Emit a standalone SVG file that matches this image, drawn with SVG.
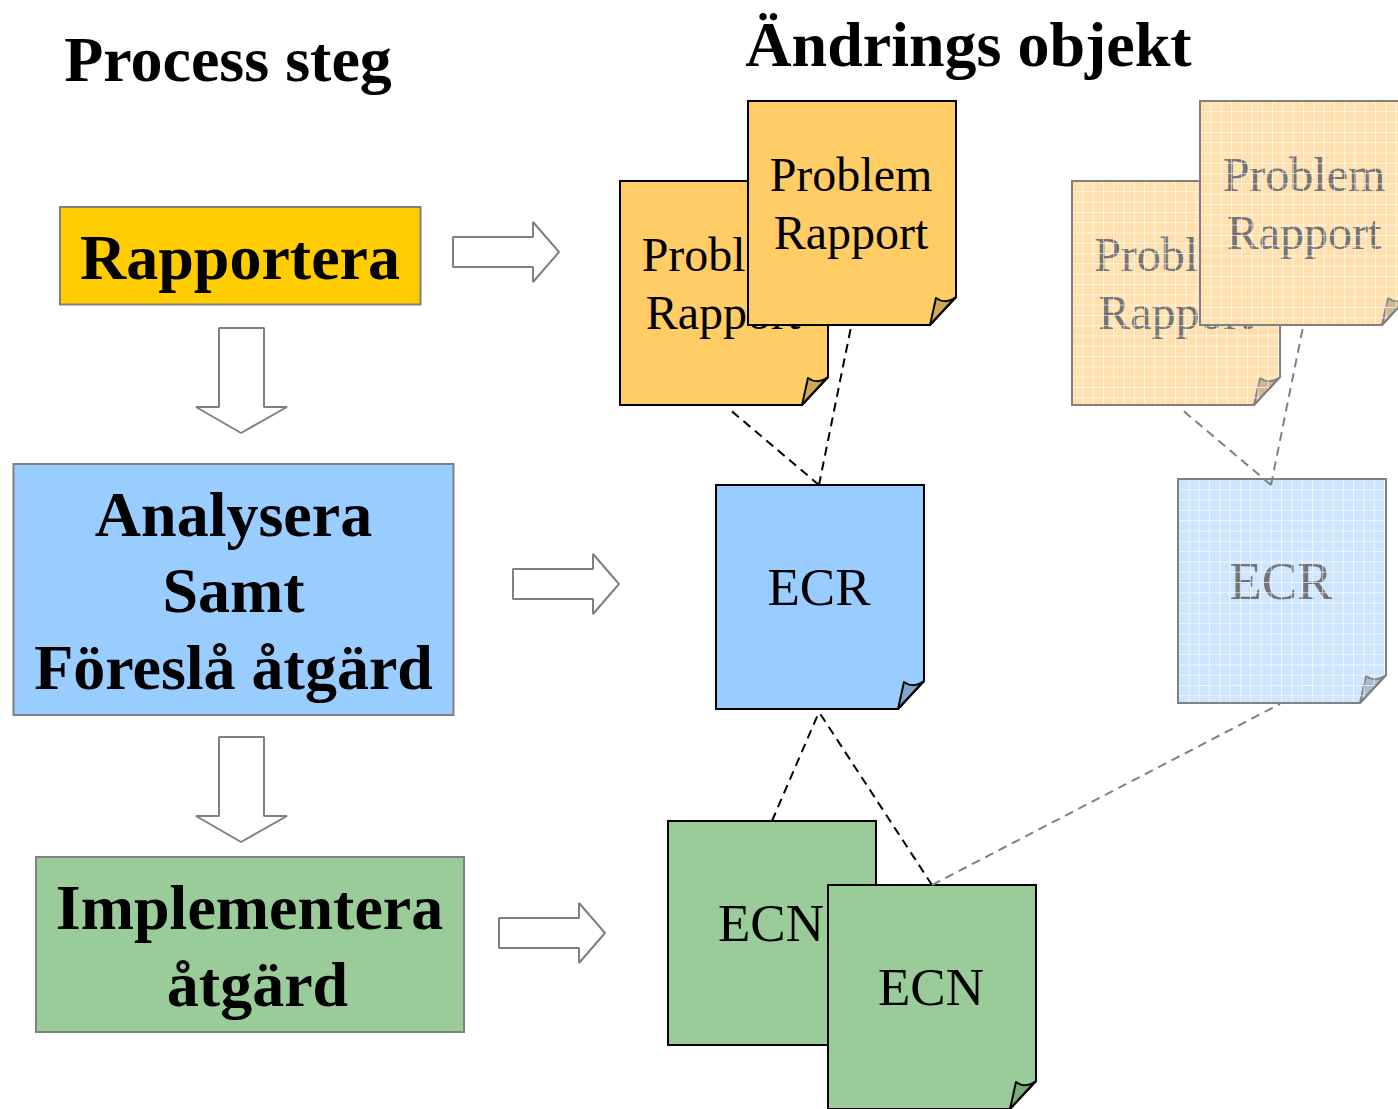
<svg xmlns="http://www.w3.org/2000/svg" width="1398" height="1109" viewBox="0 0 1398 1109">
<style>
text{font-family:"Liberation Serif","Times New Roman",serif;text-anchor:middle;fill:#000}
.h{font-weight:bold;font-size:64px}
.b{font-weight:bold;font-size:64px}
.n{font-size:48px}
.e{font-size:53px}
.box{stroke:#808080;stroke-width:2}
.arrow{fill:#fff;stroke:#808080;stroke-width:2;stroke-linejoin:bevel}
.sheet{stroke:#000;stroke-width:2}
.fold{fill:#000;fill-opacity:.18;stroke:#000;stroke-width:2;stroke-linejoin:round}
.dash{fill:none;stroke:#000;stroke-width:2;stroke-dasharray:9 6}
.fdash{fill:none;stroke:#808080;stroke-width:2;stroke-dasharray:9 6}
.f .fold{stroke:#808080}
.f text{fill:#707070}
.o{fill:#FFCC66}.fo{fill:#FFDFAC;stroke:none}
.bl{fill:#99CCFF}.fb{fill:#CCE5FF;stroke:none}
.g{fill:#99CC99}
.grid{fill:url(#grid)}
.line{fill:none;stroke:#808080;stroke-width:2}
</style>
<defs>
<path id="sheet" d="M0 0H208V196L182 224H0Z"/>
<path id="fold" d="M182 224L188 197Q197 204 208 196Z"/>
<pattern id="grid" width="10.3" height="10.3" patternUnits="userSpaceOnUse">
<rect x="2" y="2" width="2" height="2" fill="#fff" fill-opacity=".1"/>
<rect x="6" y="2" width="2" height="2" fill="#fff" fill-opacity=".1"/>
<rect x="2" y="6" width="2" height="2" fill="#fff" fill-opacity=".1"/>
<rect x="6" y="6" width="2" height="2" fill="#fff" fill-opacity=".1"/>
<path d="M0 .5H10.3M.5 0V10.3" stroke="#fff" stroke-opacity=".7" stroke-width="1" fill="none"/>
</pattern>
</defs>

<text class="h" x="228" y="81">Process steg</text>
<text class="h" x="968.500" y="66">Ändrings objekt</text>

<g id="rapportera">
<rect class="box" x="60" y="207" width="360.500" height="97.500" fill="#FFCC00"/>
<text class="b" x="240" y="279">Rapportera</text>
</g>
<g id="analysera">
<rect class="box" x="13.500" y="464" width="440" height="251" fill="#99CCFF"/>
<text class="b" x="233.500" y="536">Analysera</text>
<text class="b" x="233.500" y="612">Samt</text>
<text class="b" x="233.500" y="689">Föreslå åtgärd</text>
</g>
<g id="implementera">
<rect class="box" x="36" y="857" width="428" height="175" fill="#99CC99"/>
<text class="b" x="249.500" y="929">Implementera</text>
<text class="b" x="257.500" y="1006">åtgärd</text>
</g>

<g id="pr-back">
<use href="#sheet" x="620" y="181" class="sheet o"/>
<use href="#fold" x="620" y="181" class="fold"/>
<text class="n" x="723" y="271">Problem</text>
<text class="n" x="723" y="329">Rapport</text>
</g>
<g id="pr-front">
<use href="#sheet" x="748" y="101" class="sheet o"/>
<use href="#fold" x="748" y="101" class="fold"/>
<text class="n" x="851" y="191">Problem</text>
<text class="n" x="851" y="249">Rapport</text>
</g>
<g id="ecr">
<use href="#sheet" x="716" y="485" class="sheet bl"/>
<use href="#fold" x="716" y="485" class="fold"/>
<text class="e" x="819" y="605">ECR</text>
</g>
<g id="ecn-back">
<use href="#sheet" x="668" y="821" class="sheet g"/>
<use href="#fold" x="668" y="821" class="fold"/>
<text class="e" x="771" y="941">ECN</text>
</g>
<g id="ecn-front">
<use href="#sheet" x="828" y="885" class="sheet g"/>
<use href="#fold" x="828" y="885" class="fold"/>
<text class="e" x="931" y="1005">ECN</text>
</g>

<g id="pr-back-faded" class="f">
<use href="#sheet" x="1072" y="181" class="fo"/>
<use href="#fold" x="1072" y="181" class="fold"/>
<text class="n" x="1175.500" y="271">Problem</text>
<text class="n" x="1175.500" y="329">Rapport</text>
<use href="#sheet" x="1072" y="181" class="grid"/>
<use href="#sheet" x="1072" y="181" class="line"/>
</g>
<g id="pr-front-faded" class="f">
<use href="#sheet" x="1200" y="101" class="fo"/>
<use href="#fold" x="1200" y="101" class="fold"/>
<text class="n" x="1304" y="191">Problem</text>
<text class="n" x="1304" y="249">Rapport</text>
<use href="#sheet" x="1200" y="101" class="grid"/>
<use href="#sheet" x="1200" y="101" class="line"/>
</g>
<g id="ecr-faded" class="f">
<use href="#sheet" x="1178" y="479" class="fb"/>
<use href="#fold" x="1178" y="479" class="fold"/>
<text class="e" x="1281" y="599">ECR</text>
<use href="#sheet" x="1178" y="479" class="grid"/>
<use href="#sheet" x="1178" y="479" class="line"/>
</g>

<g id="connectors">
<path class="dash" d="M819 485L728 408M819 485L851 327M772 821L819 712M932 885L819 712"/>
<path class="fdash" d="M1271 485L1180 408M1271 485L1303 327M932 885L1280 704"/>
<path class="arrow" d="M453 237H533V222L559 252L533 282V267H453Z"/>
<path class="arrow" d="M513 569H593V554L619 584L593 614V599H513Z"/>
<path class="arrow" d="M499 918H579V903L605 933L579 963V948H499Z"/>
<path class="arrow" d="M219 328H264V407H287L241 433L196 407H219Z"/>
<path class="arrow" d="M219 737H264V816H287L241 842L196 816H219Z"/>
</g>
</svg>
